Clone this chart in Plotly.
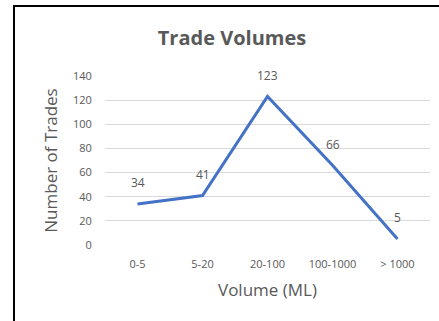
import plotly.graph_objects as go

categories = ["0-5", "5-20", "20-100", "100-1000", "> 1000"]
trades = [34, 41, 123, 66, 5]
y_ticks = [0, 20, 40, 60, 80, 100, 120, 140]

TXT = "#595959"
FONT = "'Open Sans', 'Noto Sans', sans-serif"

fig = go.Figure()
fig.add_trace(go.Scatter(
    x=categories, y=trades, mode="lines",
    line=dict(color="#4472C4", width=3),
    hoverinfo="skip", showlegend=False,
))
for c, v in zip(categories, trades):
    fig.add_annotation(x=c, y=v, text=str(v), showarrow=False,
                       yshift=21, font=dict(size=12, color=TXT, family=FONT))

fig.update_layout(
    width=439, height=321,
    margin=dict(l=105, r=9, t=76, b=76),
    paper_bgcolor="white", plot_bgcolor="white",
    font=dict(family=FONT, color=TXT),
    title=dict(text="<b>Trade Volumes</b>", x=232 / 439, xanchor="center",
               y=1 - 38 / 321, yanchor="middle",
               font=dict(size=20, color=TXT, family=FONT)),
    xaxis=dict(
        type="category", range=[-0.5, 4.5], showgrid=False, zeroline=False,
        showline=False, ticks="outside", ticklen=9, tickcolor="rgba(0,0,0,0)",
        tickfont=dict(size=11, color=TXT),
        title=dict(text="Volume (ML)", font=dict(size=17, color=TXT), standoff=13),
    ),
    yaxis=dict(
        range=[0, 140], tickvals=y_ticks, showgrid=True, gridcolor="#D9D9D9",
        gridwidth=1, zeroline=False, showline=False,
        ticks="outside", ticklen=10, tickcolor="rgba(0,0,0,0)",
        tickfont=dict(size=11, color=TXT),
        title=dict(text="Number of Trades", font=dict(size=17, color=TXT), standoff=10),
    ),
    shapes=[dict(type="rect", xref="paper", yref="paper",
                 x0=(14 - 105) / 325, x1=1.3, y0=-0.8, y1=(245 - 6) / 169,
                 line=dict(color="black", width=2), layer="below")],
)

fig.write_html("out.html")
